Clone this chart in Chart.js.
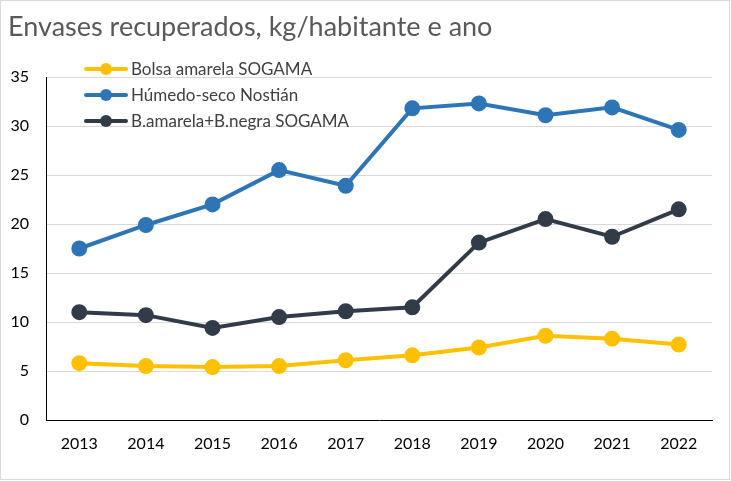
<!DOCTYPE html>
<html lang="gl">
<head>
<meta charset="UTF-8">
<title>Envases recuperados</title>
<script src="https://cdn.jsdelivr.net/npm/chart.js"></script>
<style>
  body { margin: 0; background: #fff; }
  #wrap { width: 731px; height: 481px; position: relative; }
</style>
</head>
<body>
<div id="wrap"><canvas id="grafico" width="731" height="481"></canvas></div>
<script>
// datos
const anos = ['2013', '2014', '2015', '2016', '2017', '2018', '2019', '2020', '2021', '2022'];
const bolsaAmarela = [5.8, 5.5, 5.4, 5.5, 6.1, 6.6, 7.4, 8.6, 8.3, 7.7];
const humedoSeco = [17.5, 19.9, 22.0, 25.5, 23.9, 31.8, 32.3, 31.1, 31.9, 29.6];
const amarelaNegra = [11.0, 10.7, 9.4, 10.5, 11.1, 11.5, 18.1, 20.5, 18.7, 21.5];
const titulo = 'Envases recuperados, kg/habitante e ano';

const fonte = 'Lato, "Open Sans", sans-serif';

function serie(label, data, cor) {
    return {
        label: label, data: data,
        borderColor: cor, backgroundColor: cor,
        pointBackgroundColor: cor, pointBorderColor: cor,
        borderWidth: 4, pointRadius: 6, pointHoverRadius: 6,
        tension: 0
    };
}

// titulo, lenda e marco debuxados a man
const extras = {
    id: 'extras',
    afterDraw(chart) {
        const ctx = chart.ctx;
        ctx.save();
        ctx.strokeStyle = '#d9d9d9';
        ctx.lineWidth = 1;
        ctx.strokeRect(0.5, 0.5, 729, 479);

        ctx.fillStyle = '#595959';
        ctx.font = '27px ' + fonte;
        ctx.textBaseline = 'alphabetic';
        ctx.fillText(titulo, 8, 36);

        const y0 = 69, paso = 26;
        chart.data.datasets.forEach((ds, i) => {
            const y = y0 + i * paso;
            ctx.strokeStyle = ds.borderColor;
            ctx.lineWidth = 4;
            ctx.lineCap = 'round';
            ctx.beginPath();
            ctx.moveTo(86, y);
            ctx.lineTo(126, y);
            ctx.stroke();
            ctx.fillStyle = ds.borderColor;
            ctx.beginPath();
            ctx.arc(106, y, 6, 0, Math.PI * 2);
            ctx.fill();
            ctx.fillStyle = '#404040';
            ctx.font = '17px ' + fonte;
            ctx.textBaseline = 'middle';
            ctx.fillText(ds.label, 131, y + 1);
        });
        ctx.restore();
    }
};

new Chart(document.getElementById('grafico'), {
    type: 'line',
    data: {
        labels: anos,
        datasets: [
            serie('Bolsa amarela SOGAMA', bolsaAmarela, '#FFC000'),
            serie('Húmedo-seco Nostián', humedoSeco, '#2E75B6'),
            serie('B.amarela+B.negra SOGAMA', amarelaNegra, '#323B48')
        ]
    },
    options: {
        responsive: false,
        animation: false,
        layout: { padding: { top: 77, right: 19, left: 0, bottom: 0 } },
        plugins: {
            legend: { display: false },
            title: { display: false },
            tooltip: { enabled: false }
        },
        scales: {
            x: {
                offset: true,
                grid: { display: false, drawTicks: false },
                border: { display: true, color: '#000', width: 1 },
                ticks: { color: '#000', font: { family: fonte, size: 16 }, padding: 14, maxRotation: 0 },
                afterFit(s) { s.height = 61; }
            },
            y: {
                min: 0, max: 35,
                grid: { color: '#d9d9d9', lineWidth: 1, drawTicks: false },
                border: { display: true, color: '#000', width: 1 },
                ticks: { stepSize: 5, color: '#000', font: { family: fonte, size: 16 }, padding: 17 },
                afterFit(s) { s.width = 46; }
            }
        }
    },
    plugins: [extras]
});
</script>
</body>
</html>
